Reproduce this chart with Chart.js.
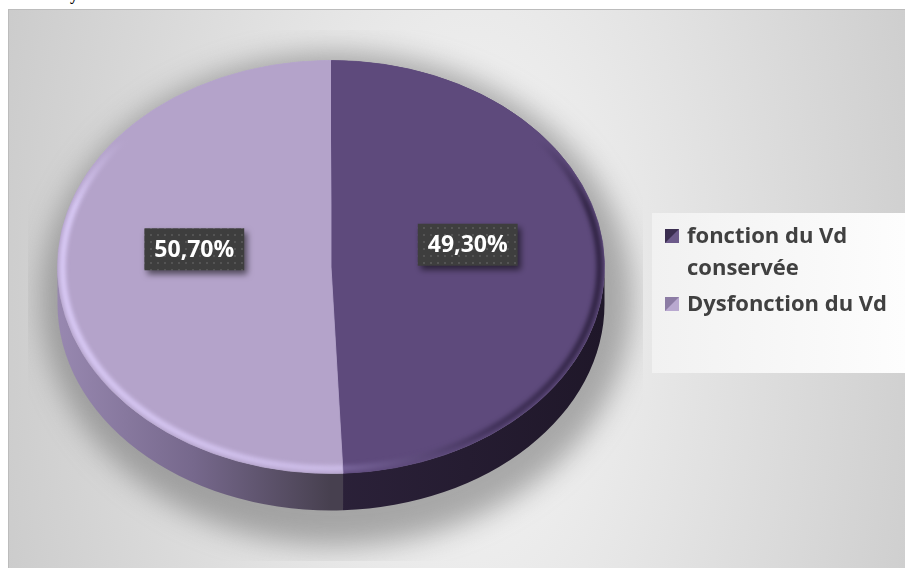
<!DOCTYPE html>
<html>
<head>
<meta charset="utf-8">
<script src="https://cdn.jsdelivr.net/npm/chart.js@4.4.1/dist/chart.umd.min.js"></script>
<style>
  html, body { margin: 0; padding: 0; background: #fff; }
  body { width: 905px; height: 568px; position: relative; overflow: hidden; }
  #frame {
    position: absolute; left: 8px; top: 9px; width: 910px; height: 570px;
    border: 1px solid #bcbcbc;
    background: radial-gradient(ellipse 62% 200% at 51% 52%, #f7f7f7 0%, #c5c5c5 100%);
  }
  #cut {
    position: absolute; left: 70px; top: -14px;
    font: bold 16px "Liberation Serif", serif; color: #000;
  }
  #pie { position: absolute; left: 0; top: 0; }
</style>
</head>
<body>
<div id="cut">y</div>
<div id="frame"></div>
<canvas id="pie" width="905" height="568"></canvas>
<script>
const categories = ['fonction du Vd conservée', 'Dysfonction du Vd'];
const shares = [49.3, 50.7];
const sliceColors = ['#5e4a7c', '#b4a3ca'];

// flattened disc: vertical squash of the top face, wall height, face centre on screen
const TILT = 0.755;
const DEPTH = 37;
const FACE_CY = 267;

function visibleSpans(a0, a1) {
  const spans = [];
  for (let n = -1; n <= 1; n++) {
    const s = Math.max(a0, 2 * Math.PI * n);
    const e = Math.min(a1, 2 * Math.PI * n + Math.PI);
    if (e > s) spans.push([s, e]);
  }
  return spans;
}

function wedgePath(ctx, x, y, rx, ry, a0, a1) {
  ctx.beginPath();
  ctx.moveTo(x, y);
  ctx.ellipse(x, y, rx, ry, 0, a0, a1, false);
  ctx.closePath();
}

const tiltPlugin = {
  id: 'tilt',
  beforeDatasetsDraw(chart) {
    const ctx = chart.ctx;
    const arcs = chart.getDatasetMeta(0).data;
    const cx = arcs[0].x, cy = arcs[0].y, R = arcs[0].outerRadius;
    const ry = R * TILT;

    // soft drop shadow under the disc
    ctx.save();
    ctx.beginPath();
    ctx.rect(28, 30, 615, 531);
    ctx.clip();
    ctx.filter = 'blur(14px)';
    ctx.fillStyle = 'rgba(110,110,110,0.55)';
    ctx.beginPath();
    ctx.ellipse(cx + 6, FACE_CY + DEPTH / 2 + 14, R + 22, ry + 40, 0, 0, Math.PI * 2);
    ctx.fill();
    ctx.restore();

    // side wall of each slice
    const wallFills = [
      [[0.5, '#2b2139'], [1, '#1f1729']],
      [[0, '#9888b0'], [0.25, '#76688c'], [0.5, '#47404f']]
    ];
    arcs.forEach((arc, i) => {
      const grad = ctx.createLinearGradient(cx - R, 0, cx + R, 0);
      wallFills[i].forEach(([p, c]) => grad.addColorStop(p, c));
      visibleSpans(arc.startAngle, arc.endAngle).forEach(([s, e]) => {
        ctx.beginPath();
        ctx.ellipse(cx, FACE_CY, R, ry, 0, s, e, false);
        ctx.ellipse(cx, FACE_CY + DEPTH, R, ry, 0, e, s, true);
        ctx.closePath();
        ctx.fillStyle = grad;
        ctx.fill();
      });
    });

    // squash the top face drawn by the pie controller
    ctx.save();
    ctx.translate(0, FACE_CY);
    ctx.scale(1, TILT);
    ctx.translate(0, -cy);
  },
  afterDatasetsDraw(chart) {
    const ctx = chart.ctx;
    ctx.restore();
    const arcs = chart.getDatasetMeta(0).data;
    const cx = arcs[0].x, R = arcs[0].outerRadius;
    const ry = R * TILT;

    // bevel along the rim of the top face, strongest toward the front
    const rims = [
      [[0.5, 'rgba(150,130,190,0.55)'], [0.8, 'rgba(40,28,60,0.55)'], [1, 'rgba(30,20,45,0.75)']],
      [[0, 'rgba(225,210,255,0.85)'], [0.5, 'rgba(215,200,245,0.7)']]
    ];
    arcs.forEach((arc, i) => {
      ctx.save();
      wedgePath(ctx, cx, FACE_CY, R, ry, arc.startAngle, arc.endAngle);
      ctx.clip();
      const grad = ctx.createLinearGradient(cx - R, 0, cx + R, 0);
      rims[i].forEach(([p, c]) => grad.addColorStop(p, c));
      ctx.filter = 'blur(2px)';
      ctx.strokeStyle = grad;
      ctx.lineWidth = 6;
      ctx.beginPath();
      ctx.ellipse(cx, FACE_CY, R - 5, ry - 5, 0, 0, Math.PI * 2);
      ctx.stroke();
      // fade the rim out toward the back edge
      ctx.filter = 'none';
      ctx.globalCompositeOperation = 'source-over';
      const fade = ctx.createLinearGradient(0, FACE_CY - ry, 0, FACE_CY - ry * 0.3);
      fade.addColorStop(0, sliceColors[i]);
      fade.addColorStop(0.55, sliceColors[i]);
      fade.addColorStop(1, sliceColors[i] + '00');
      ctx.fillStyle = fade;
      ctx.fillRect(cx - R - 2, FACE_CY - ry - 2, 2 * R + 4, ry * 0.72);
      ctx.restore();
    });
  }
};

const tile = document.createElement('canvas');
tile.width = 7; tile.height = 7;
const tctx = tile.getContext('2d');
tctx.fillStyle = '#3e3e3e';
tctx.fillRect(0, 0, 7, 7);
tctx.fillStyle = '#545454';
tctx.fillRect(3, 3, 2, 2);

const labelPlugin = {
  id: 'valueLabels',
  afterDatasetsDraw(chart) {
    const ctx = chart.ctx;
    const arcs = chart.getDatasetMeta(0).data;
    ctx.save();
    ctx.font = 'bold 23px "Open Sans"';
    ctx.textAlign = 'center';
    ctx.textBaseline = 'middle';
    arcs.forEach((arc, i) => {
      const mid = (arc.startAngle + arc.endAngle) / 2;
      const r = arc.outerRadius * 0.5;
      const x = arc.x + Math.cos(mid) * r;
      const y = FACE_CY + Math.sin(mid) * r * TILT - 20;
      const text = shares[i].toFixed(2).replace('.', ',') + '%';
      const w = ctx.measureText(text).width + 20;
      const h = 42;
      ctx.save();
      ctx.shadowColor = 'rgba(0,0,0,0.55)';
      ctx.shadowBlur = 6;
      ctx.shadowOffsetX = 3;
      ctx.shadowOffsetY = 4;
      ctx.fillStyle = ctx.createPattern(tile, 'repeat');
      ctx.fillRect(x - w / 2, y - h / 2, w, h);
      ctx.restore();
      ctx.fillStyle = '#ffffff';
      ctx.fillText(text, x, y + 1);
    });
    ctx.restore();
  }
};

const legendPlugin = {
  id: 'sideLegend',
  afterDraw(chart) {
    const ctx = chart.ctx;
    ctx.save();
    const bg = ctx.createLinearGradient(652, 0, 905, 0);
    bg.addColorStop(0, '#f1f1f1');
    bg.addColorStop(1, '#fdfdfd');
    ctx.fillStyle = bg;
    ctx.fillRect(652, 213, 260, 160);

    ctx.font = 'bold 22px "Open Sans"';
    ctx.fillStyle = '#404040';
    ctx.textBaseline = 'alphabetic';
    const shades = [['#3b2e50', '#6c5a8a'], ['#8c7ca4', '#b9a9d0']];
    let baseline = 243;
    chart.data.labels.forEach((label, i) => {
      // wrap the label to the legend width
      const lines = [];
      let line = '';
      label.split(' ').forEach(word => {
        const next = line ? line + ' ' + word : word;
        if (line && ctx.measureText(next).width > 212) { lines.push(line); line = word; }
        else line = next;
      });
      lines.push(line);

      const mx = 665, my = baseline - 14, ms = 14;
      ctx.fillStyle = shades[i][1];
      ctx.fillRect(mx, my, ms, ms);
      ctx.fillStyle = shades[i][0];
      ctx.beginPath();
      ctx.moveTo(mx, my);
      ctx.lineTo(mx + ms, my);
      ctx.lineTo(mx + ms / 2, my + ms / 2);
      ctx.lineTo(mx, my + ms);
      ctx.closePath();
      ctx.fill();

      ctx.fillStyle = '#404040';
      lines.forEach((t, j) => ctx.fillText(t, 687, baseline + j * 32));
      baseline += (lines.length - 1) * 32 + 36;
    });
    ctx.restore();
  }
};

new Chart(document.getElementById('pie'), {
  type: 'pie',
  data: {
    labels: categories,
    datasets: [{
      data: shares,
      backgroundColor: sliceColors,
      borderColor: sliceColors,
      borderWidth: 1,
      clip: false
    }]
  },
  options: {
    responsive: false,
    animation: false,
    events: [],
    layout: { padding: { left: 57, right: 300, top: 10, bottom: 10 } },
    plugins: { legend: { display: false }, tooltip: { enabled: false } }
  },
  plugins: [tiltPlugin, labelPlugin, legendPlugin]
});
</script>
</body>
</html>
